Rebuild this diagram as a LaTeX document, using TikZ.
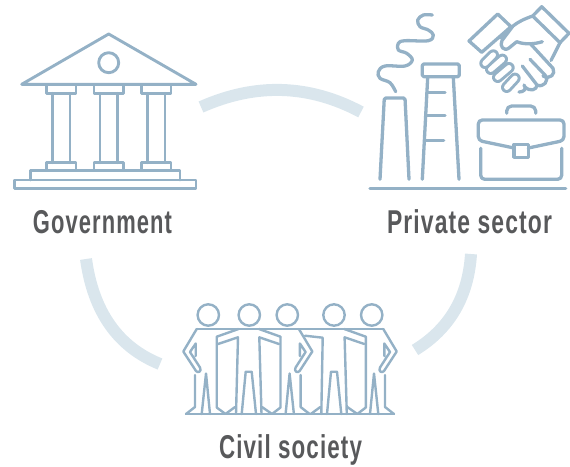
\documentclass[tikz,border=0pt]{standalone}
\usepackage{fontspec}
\setmainfont{Liberation Sans}
\definecolor{ink}{HTML}{94B1C6}
\definecolor{pale}{HTML}{DAE6ED}
\definecolor{txt}{HTML}{58595B}
\tikzset{
  ic/.style={draw=ink,line width=2.9pt,line join=round,line cap=round},
  fac/.style={draw=ink,line width=3.3pt,line join=round,line cap=round},
  thin ic/.style={draw=ink,line width=2.4pt,line join=round,line cap=round},
  arc line/.style={draw=pale,line width=12pt},
  finger/.style={draw=ink,line width=3pt,double=white,double distance=5.4pt,line cap=round},
  label/.style={anchor=base,text=txt,font=\fontsize{33}{33}\selectfont\bfseries\addfontfeatures{LetterSpace=5},inner sep=0pt}
}
\newcommand{\fit}[2]{\resizebox{#1pt}{\height}{#2}}
\newcommand{\personside}{%
  \draw[thin ic] (196.7,329) -- (183.3,351.5) -- (196,371) .. controls (198,373.5) and (202,371.5) .. (200,367.5) -- (190,352) -- (195.7,343.5) -- (195.7,356);
  \draw[thin ic] (195,375) -- (195,407) -- (186,414);
  \draw[thin ic] (201.7,414) -- (206,373.5) -- (210,414);
}
\newcommand{\personcore}{%
  \draw[thin ic] (241.7,414) -- (245.7,371.7) -- (251.7,371.7) -- (256,414);
  \draw[thin ic] (259,329) -- (280.5,336.7);
  \draw[thin ic] (279,344) -- (259.3,337.3) -- (261.5,414);
  \draw[thin ic] (262,407) -- (272,414) -- (280.5,407.5) -- (280.5,336.7);
  \draw[thin ic] (225.5,414) -- (235,407);
}
\begin{document}
\begin{tikzpicture}[x=1pt,y=-1pt]
\useasboundingbox (0,0) rectangle (570,466);
% pale arcs
\coordinate (a1) at (201,107); \coordinate (a2) at (361,112);
\coordinate (b1) at (86,259);  \coordinate (b2) at (160,364);
\coordinate (c1) at (471,254); \coordinate (c2) at (415,350);
\draw[arc line] (a1) .. controls (255.7,82.7) and (309,84.3) .. (a2);
\draw[arc line] (b1) .. controls (93.3,312) and (118,347) .. (b2);
\draw[arc line] (c1) .. controls (468.3,296.7) and (449.7,328.7) .. (c2);
% government
\draw[ic] (108.7,34) -- (21.7,84.3) -- (196,84.3) -- cycle;
\draw[ic] (108.7,62.7) circle (10);
\foreach \d in {0,47.3,95}{
  \begin{scope}[xshift=\d pt]
  \draw[ic] (46.7,84.3) rectangle (76,93.3);
  \draw[ic] (52.7,93.3) -- (52.7,162.7) (70,93.3) -- (70,162.7);
  \draw[ic] (46.7,162.7) rectangle (76,170.7);
  \end{scope}
}
\draw[ic] (30.7,180) -- (30.7,170.7) -- (180,170.7) -- (180,180);
\draw[ic] (14.7,180) rectangle (196,188.3);
% private sector: factory
\draw[fac] (370,188.7) -- (565.7,188.7);
\draw[fac,rounded corners=1.5pt] (380,179.3) -- (384.3,98) -- (405,98) -- (409,179.3);
\draw[fac] plot[smooth,tension=.6] coordinates {(395.7,91.7) (390,82.7) (380,78.3) (378.3,71.7) (385,66) (405,66) (412.3,60) (406.7,53.3) (398.3,50) (398.3,43.3) (405,40.7) (428.3,40.7) (433.3,35) (428.3,30) (420,26.7) (417.7,20) (423.3,15) (432.3,15)};
\draw[fac,rounded corners=1.5pt] (422.3,64) rectangle (459.3,76.7);
\draw[fac] (427.7,77.3) -- (422.3,179.3) (453.3,77.3) -- (459,179.3);
\draw[fac] (428.5,92.3) -- (445,92.3) (427,115.3) -- (445,115.3) (426,140.7) -- (443.7,140.7);
% briefcase
\draw[fac,rounded corners=4pt] (514,148) -- (478.3,140.5) -- (478.3,120) -- (564,120) -- (564,140.5) -- (528.3,148);
\draw[fac] (514,144.5) rectangle (528.3,157.3);
\draw[fac,rounded corners=4pt] (480.7,148.3) -- (480.7,179.3) -- (561.7,179.3) -- (561.7,148.3);
\draw[fac,rounded corners=5pt] (506.7,113.3) -- (506.7,106) -- (535.7,106) -- (535.7,113.3);
% handshake
\draw[fac] (497.7,14) -- (511,26.7) -- (481.7,52.3) -- (469,41) -- cycle;
\draw[fac] (541.7,6.7) -- (569,33.3) -- (560,42.7) -- (532.7,16) -- cycle;
\draw[fac] (532.7,16) .. controls (524,19) and (518,22) .. (513,26) -- (502,40.5) .. controls (499,46) and (504,52) .. (509,48) -- (516.7,41.7) .. controls (525,45) and (535,44) .. (542.3,41.7);
\draw[fac] (511,28) -- (500,38);
\draw[fac] (530,43.3) -- (553,68.3) .. controls (556,74) and (550,80) .. (543,76);
\draw[fac] (560,42.7) -- (551,60.5);
\draw[fac] (530,59.3) -- (545,75) .. controls (550,81) and (543,88) .. (537,85) -- (522.3,66);
\draw[fac] (537,85) .. controls (537,90) and (530,92) .. (525,87);
\draw[fac] (519,92) .. controls (524,92) and (527,89) .. (524,85);
\draw[finger] (506.7,87.3) -- (515,78.3);
\draw[finger] (497.7,77.3) -- (509,67.7);
\draw[finger] (490.7,69.3) -- (502.3,59.3);
\draw[finger] (485,63.3) -- (493.3,55);
% civil society
\foreach \h in {208.3,249.3,287.3,334,371.7}{\draw[thin ic] (\h,315) circle (10.7);}
\draw[thin ic] (196.7,329) -- (383.3,329);
\draw[thin ic] (186,414) -- (394,414);
\personside
% middle figure: full left side
\draw[thin ic] (238.5,329) -- (216.7,336.7) -- (216.7,407.5) -- (225.5,414);
\draw[thin ic] (218,344) -- (238,337.3) -- (236,414);
\personcore
% fourth figure: left side hidden behind the neighbour's arm
\begin{scope}[xshift=85.3pt]\personcore\end{scope}
\draw[thin ic] (305,335.7) -- (322.7,337.7) -- (321.3,414);
\begin{scope}[xshift=580pt,xscale=-1]\personside\end{scope}
\begin{scope}[xshift=495.6pt,xscale=-1]\personside\end{scope}
% labels
\node[label] (gov) at (102.5,233) {\fit{139}{Government}};
\node[label] (pri) at (469.5,233.5) {\fit{165}{Private sector}};
\node[label] (civ) at (290.5,458) {\fit{143}{Civil society}};
\end{tikzpicture}
\end{document}
